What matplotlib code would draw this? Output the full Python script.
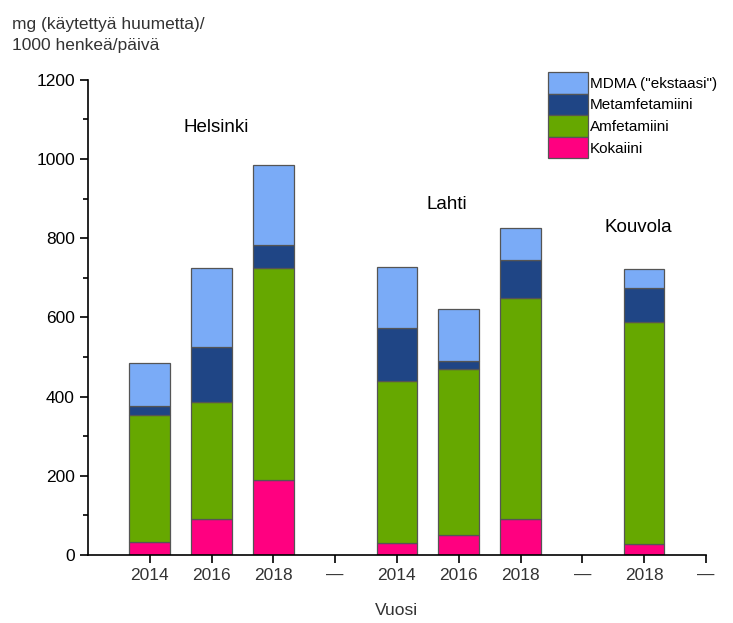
import numpy as np
import matplotlib
matplotlib.use("Agg")
import matplotlib.pyplot as plt
from matplotlib.ticker import MultipleLocator

plt.rcParams['font.family'] = ['Liberation Sans', 'DejaVu Sans']

# x positions 1..10, "—" are empty gaps
tick_labels = ["2014", "2016", "2018", "—", "2014", "2016", "2018", "—", "2018", "—"]
bar_pos = [1, 2, 3, 5, 6, 7, 9]

kokaiini = [33, 91, 190, 30, 50, 92, 28]
amfetamiini = [321, 296, 535, 410, 420, 558, 561]
metamfetamiini = [22, 138, 58, 133, 20, 95, 86]
mdma = [109, 200, 202, 155, 130, 80, 48]

series_names = ["Kokaiini", "Amfetamiini", "Metamfetamiini", 'MDMA ("ekstaasi")']
series_colors = ["#ff0080", "#66a800", "#1f4585", "#7aabf7"]

cities = ["Helsinki", "Lahti", "Kouvola"]
city_x = [2.08, 5.8, 8.9]
city_y = [1080, 885, 826]

fig = plt.figure(figsize=(7.33, 6.23), dpi=100)
ax = fig.add_axes([0.12, 0.109, 0.843, 0.763])

bottom = np.zeros(len(bar_pos))
handles = []
for vals, name, col in zip([kokaiini, amfetamiini, metamfetamiini, mdma], series_names, series_colors):
    b = ax.bar(bar_pos, vals, bottom=bottom, width=0.66, color=col,
               edgecolor="#555555", linewidth=0.9, label=name)
    handles.append(b)
    bottom += np.array(vals)

ax.set_xlim(0, 10)
ax.set_ylim(0, 1200)
ax.set_xticks(range(1, 11))
ax.set_xticklabels(tick_labels)
ax.yaxis.set_major_locator(MultipleLocator(200))
ax.yaxis.set_minor_locator(MultipleLocator(100))
ax.tick_params(axis='both', which='major', length=6, width=1.2, labelsize=12.5,
               colors='black', labelcolor='#333333')
ax.tick_params(axis='y', which='minor', length=3.5, width=1.2)
ax.tick_params(axis='y', labelcolor='black')
for s in ['top', 'right']:
    ax.spines[s].set_visible(False)
for s in ['left', 'bottom']:
    ax.spines[s].set_linewidth(1.2)

ax.set_xlabel("Vuosi", fontsize=12.5, color='#333333', labelpad=14)

for name, x, y in zip(cities, city_x, city_y):
    ax.text(x, y, name, ha='center', va='center', fontsize=13.5)

fig.text(0.016, 0.972, "mg (käytettyä huumetta)/\n1000 henkeä/päivä",
         ha='left', va='top', fontsize=12.5, color='#333333', linespacing=1.45)

leg = ax.legend(handles[::-1], series_names[::-1], loc='upper left',
                bbox_to_anchor=(548 / 733, 1 - 72 / 623), bbox_transform=fig.transFigure,
                frameon=False, fontsize=11, borderpad=0, borderaxespad=0,
                handlelength=2.6, handleheight=1.8, labelspacing=0.0, handletextpad=0.15)

fig.savefig("out.png", dpi=100)
